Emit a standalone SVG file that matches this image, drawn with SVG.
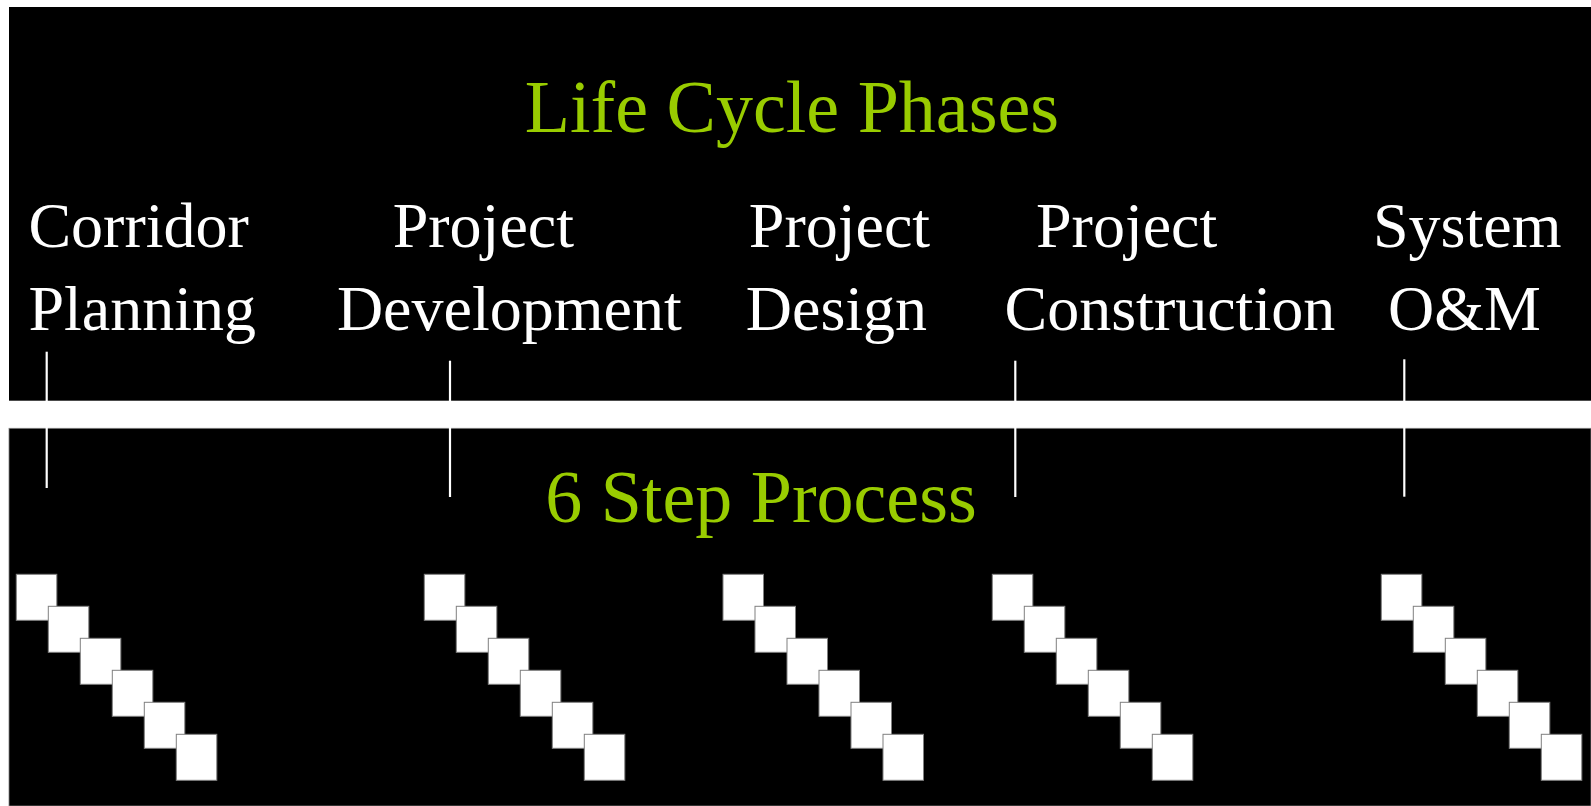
<svg xmlns="http://www.w3.org/2000/svg" width="1591" height="806" viewBox="0 0 1591 806">
<style>
.t{font-family:"Liberation Serif","Times New Roman",serif;fill:#ffffff;font-size:64px}
.h{font-family:"Liberation Serif","Times New Roman",serif;fill:#99cc00;font-size:74px}
.sq{fill:#ffffff;stroke:#808080;stroke-width:1}
.ln{stroke:#ffffff;stroke-width:2.2;fill:none}
</style>
<defs>
<g id="steps">
<rect class="sq" x="0" y="0" width="40.5" height="46"/>
<rect class="sq" x="32" y="32" width="40.5" height="46"/>
<rect class="sq" x="64" y="64" width="40.5" height="46"/>
<rect class="sq" x="96" y="96" width="40.5" height="46"/>
<rect class="sq" x="128" y="128" width="40.5" height="46"/>
<rect class="sq" x="160" y="160" width="40.5" height="46"/>
</g>
</defs>
<rect width="1591" height="806" fill="#ffffff"/>
<rect id="top-panel" x="9" y="7" width="1582" height="393.7" fill="#000000"/>
<rect id="bottom-panel" x="9" y="428.3" width="1582" height="377.7" fill="#000000" stroke="#808080" stroke-width="0.8"/>
<g id="title-phases"><text class="h" x="792" y="132" text-anchor="middle">Life Cycle Phases</text></g>
<g id="title-process"><text class="h" x="761" y="522" text-anchor="middle">6 Step Process</text></g>
<g id="phase-corridor"><text class="t" x="28.4" y="247">Corridor</text><text class="t" x="28.4" y="330">Planning</text></g>
<g id="phase-development"><text class="t" x="392.7" y="247">Project</text><text class="t" x="336.9" y="330">Development</text></g>
<g id="phase-design"><text class="t" x="748.8" y="247">Project</text><text class="t" x="745.8" y="330">Design</text></g>
<g id="phase-construction"><text class="t" x="1036" y="247">Project</text><text class="t" x="1004.5" y="330">Construction</text></g>
<g id="phase-om"><text class="t" x="1373" y="247">System</text><text class="t" x="1388" y="330">O&amp;M</text></g>
<g id="connectors">
<line class="ln" x1="46.7" y1="351.7" x2="46.7" y2="488"/>
<line class="ln" x1="450" y1="360.7" x2="450" y2="497"/>
<line class="ln" x1="1015.3" y1="360.7" x2="1015.3" y2="497"/>
<line class="ln" x1="1404.3" y1="359.3" x2="1404.3" y2="496.7"/>
</g>
<g id="steps-1"><use href="#steps" x="16.3" y="574.3"/></g>
<g id="steps-2"><use href="#steps" x="424.3" y="574.3"/></g>
<g id="steps-3"><use href="#steps" x="723" y="574.3"/></g>
<g id="steps-4"><use href="#steps" x="992.3" y="574.3"/></g>
<g id="steps-5"><use href="#steps" x="1381.3" y="574.3"/></g>
</svg>
